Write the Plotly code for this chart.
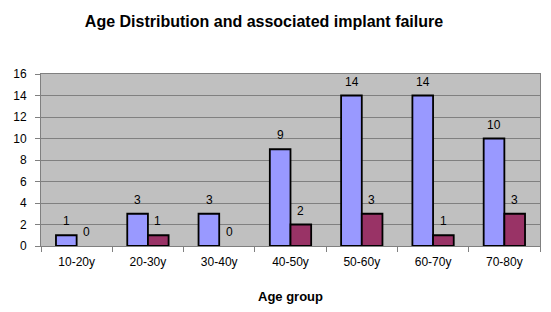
import plotly.graph_objects as go

categories = ["10-20y", "20-30y", "30-40y", "40-50y", "50-60y", "60-70y", "70-80y"]
total_cases = [1, 3, 3, 9, 14, 14, 10]
failures = [0, 1, 0, 2, 3, 1, 3]

FONT = "Liberation Sans, Arial, sans-serif"
W, H = 551, 312
BODY = 8  # default page body margin shifts the figure


def outline(vals):
    return [1.8 if v else 0 for v in vals]


fig = go.Figure()
fig.add_trace(go.Bar(
    x=categories, y=total_cases,
    marker=dict(color="#9999FF", line=dict(color="#000000", width=outline(total_cases))),
    name="Cases"))
fig.add_trace(go.Bar(
    x=categories, y=failures,
    marker=dict(color="#993366", line=dict(color="#000000", width=outline(failures))),
    name="Failures"))

# value labels above each bar
for series, dx in ((total_cases, -10), (failures, 10)):
    for cat, v in zip(categories, series):
        fig.add_annotation(x=cat, y=v, text=str(v), showarrow=False,
                           xshift=dx, yshift=14, yanchor="middle",
                           font=dict(family=FONT, size=12, color="#000000"))

fig.update_layout(
    width=W, height=H,
    margin=dict(l=41 - BODY, r=11 + BODY, t=74 - BODY, b=66 + BODY),
    paper_bgcolor="#FFFFFF", plot_bgcolor="#C0C0C0",
    barmode="group", bargap=0.42, bargroupgap=0,
    showlegend=False,
    font=dict(family=FONT, size=12, color="#000000"),
    title=dict(text="<b>Age Distribution and associated implant failure</b>",
               x=(264 - BODY) / W, xanchor="center",
               y=1 - (21 - BODY) / H, yanchor="middle",
               font=dict(family=FONT, size=16, color="#000000")),
)
fig.update_xaxes(
    automargin=False,
    showline=True, linecolor="#808080", linewidth=1,
    ticks="outside", tickson="boundaries", ticklen=5, tickcolor="#808080",
    ticklabelstandoff=5,
    mirror=True, showgrid=False,
    tickfont=dict(family=FONT, size=12),
    title=dict(text="<b>Age group</b>", font=dict(family=FONT, size=13), standoff=23),
)
fig.update_yaxes(
    automargin=False,
    range=[0, 16], dtick=2, showgrid=True, gridcolor="#808080", gridwidth=1,
    showline=True, linecolor="#808080", linewidth=1, mirror=True,
    ticks="outside", ticklen=5, tickcolor="#808080",
    ticklabelstandoff=6,
    tickfont=dict(family=FONT, size=12), zeroline=False,
)

fig.write_html("out.html")
